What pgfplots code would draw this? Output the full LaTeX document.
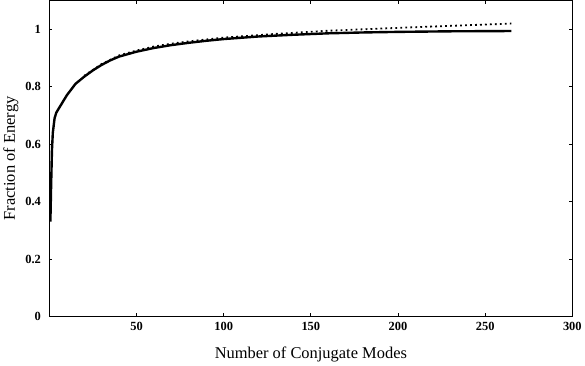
\documentclass[border=0pt]{standalone}
\usepackage{fontspec}
\setmainfont{Liberation Serif}
\usepackage{pgfplots}
\pgfplotsset{compat=1.18}
\begin{document}
\begin{tikzpicture}
\begin{axis}[
  scale only axis,
  width=525pt, height=317pt,
  xmin=0, xmax=300, ymin=0, ymax=1.1,
  xtick={50,100,150,200,250,300},
  ytick={0,0.2,0.4,0.6,0.8,1},
  yticklabels={0,0.2,0.4,0.6,0.8,1},
  tick style={black, line width=0.8pt},
  major tick length=3pt,
  axis line style={line width=1.2pt},
  ticklabel style={font=\fontsize{12.5}{13}\selectfont\bfseries},
  yticklabel style={xshift=-5pt},
  xticklabel style={yshift=-2pt},
  /pgf/number format/assume math mode=true,
  xlabel={Number of Conjugate Modes},
  ylabel={Fraction of Energy},
  label style={font=\fontsize{16.5}{18}\selectfont},
  xlabel style={yshift=-10pt},
  ylabel style={yshift=0pt},
]
\addplot[black, line width=2.4pt, line join=round] coordinates {
(0.6,0.33)(1,0.45)(1.5,0.58)(2,0.64)(3,0.69)(4,0.71)(6,0.73)(10,0.77)(15,0.81)(20,0.835)(25,0.857)(30,0.876)(35,0.892)(40,0.905)(50,0.922)(60,0.935)(70,0.945)(80,0.953)(90,0.96)(100,0.966)(120,0.975)(140,0.981)(160,0.986)(180,0.989)(200,0.991)(230,0.993)(265,0.994)
};
\addplot[black, line width=1.8pt, dash pattern=on 1.8pt off 3.2pt] coordinates {
(20,0.838)(30,0.879)(40,0.909)(50,0.926)(60,0.94)(70,0.95)(80,0.958)(100,0.971)(130,0.984)(160,0.995)(200,1.005)(230,1.012)(265,1.02)
};
\end{axis}
\end{tikzpicture}
\end{document}
